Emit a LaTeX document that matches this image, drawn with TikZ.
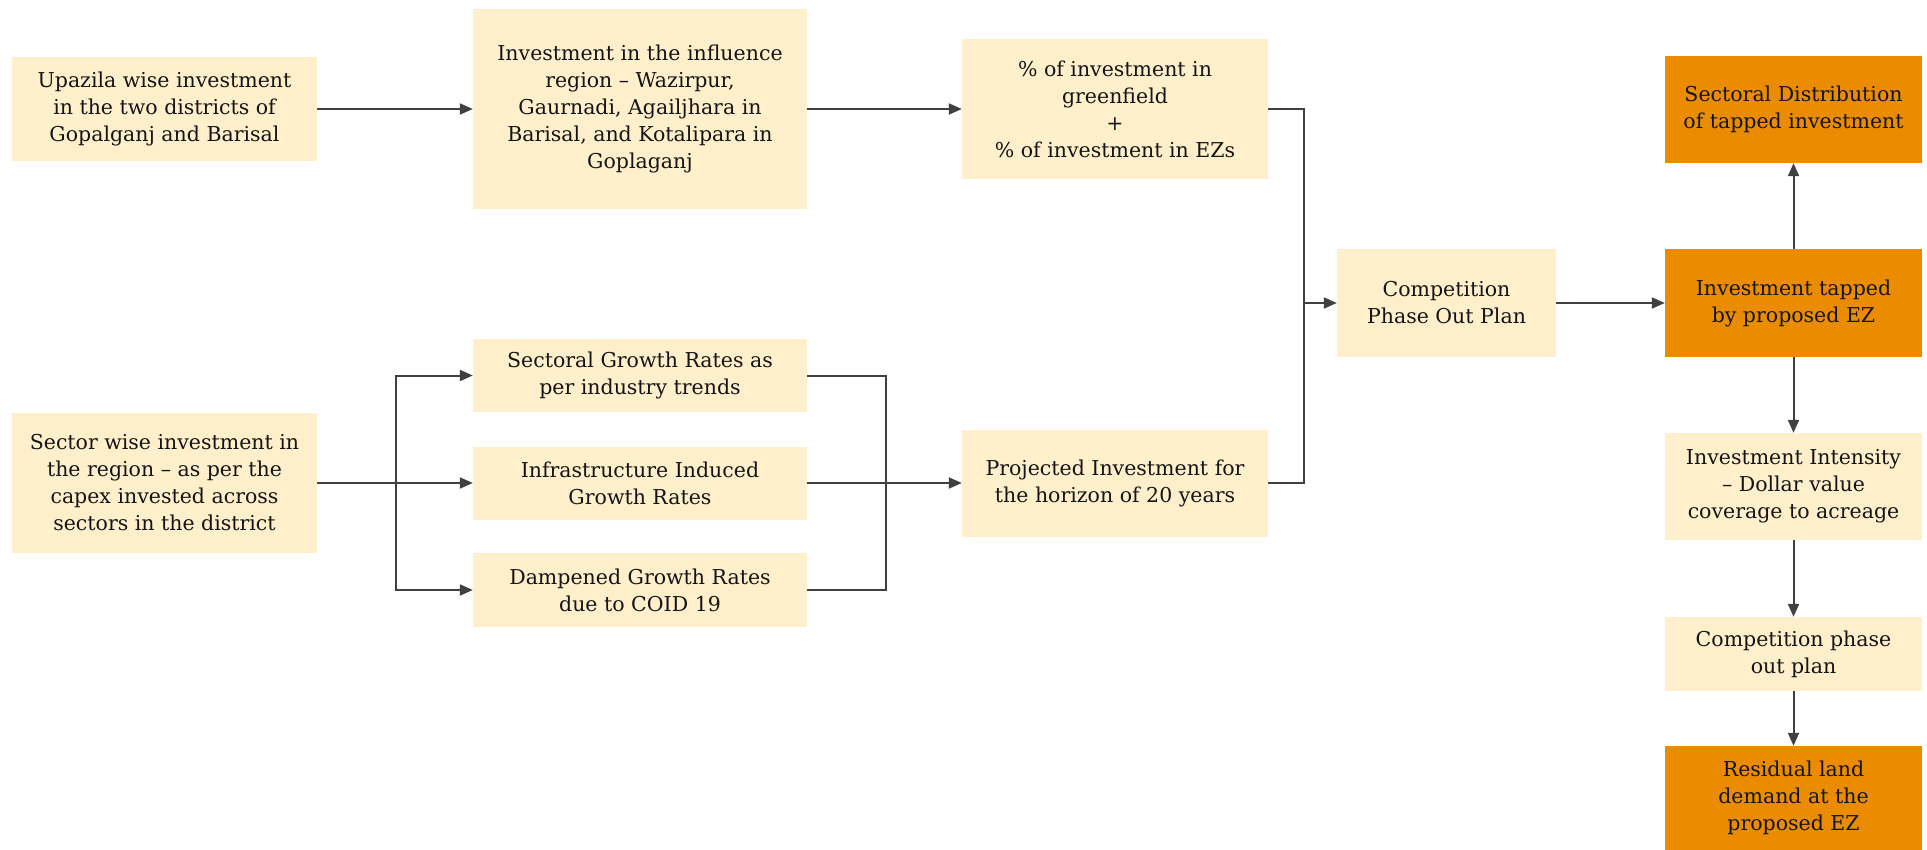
\documentclass[tikz,border=0pt]{standalone}
\usepackage{fontspec}
\setmainfont{DejaVu Serif}
\usetikzlibrary{arrows.meta}
\definecolor{cream}{HTML}{FFF0CB}
\definecolor{pwcorange}{HTML}{EB8C00}
\definecolor{wire}{HTML}{404040}
\definecolor{ink}{HTML}{141414}
\begin{document}
\begin{tikzpicture}[x=1pt,y=-1pt,
  box/.style={fill=cream, draw=none, align=center, inner sep=0pt, text=ink,
    font=\fontsize{20.5}{27}\selectfont},
  hotbox/.style={box, fill=pwcorange},
  wireline/.style={draw=wire, line width=2pt},
  flow/.style={wireline, -{Triangle[length=13pt,width=11pt]}}
]
\useasboundingbox (0,0) rectangle (1927,850);

% left column
\node[box, minimum width=305pt, minimum height=104pt] (up) at (164.5,109)
  {Upazila wise investment\\in the two districts of\\Gopalganj and Barisal};
\node[box, minimum width=305pt, minimum height=140pt] (sw) at (164.5,483)
  {Sector wise investment in\\the region -- as per the\\capex invested across\\sectors in the district};

% second column
\node[box, minimum width=334pt, minimum height=200pt] (inf) at (640,109)
  {Investment in the influence\\region -- Wazirpur,\\Gaurnadi, Agailjhara in\\Barisal, and Kotalipara in\\Goplaganj};
\node[box, minimum width=334pt, minimum height=73pt] (sgr) at (640,375.5)
  {Sectoral Growth Rates as\\per industry trends};
\node[box, minimum width=334pt, minimum height=73pt] (infra) at (640,483)
  {Infrastructure Induced\\Growth Rates};
\node[box, minimum width=334pt, minimum height=74pt] (damp) at (640,590)
  {Dampened Growth Rates\\due to COID 19};

% third column
\node[box, minimum width=306pt, minimum height=140pt] (pct) at (1115,109)
  {\% of investment in\\greenfield\\+\\\% of investment in EZs};
\node[box, minimum width=306pt, minimum height=107pt] (proj) at (1115,483)
  {Projected Investment for\\the horizon of 20 years};

% fourth column
\node[box, minimum width=219pt, minimum height=107pt] (cpop) at (1446.5,303)
  {Competition\\Phase Out Plan};

% right column
\node[hotbox, minimum width=257pt, minimum height=107pt] (sd) at (1793.5,109.5)
  {Sectoral Distribution\\of tapped investment};
\node[hotbox, minimum width=257pt, minimum height=108pt] (tap) at (1793.5,303)
  {Investment tapped\\by proposed EZ};
\node[box, minimum width=257pt, minimum height=107pt] (ii) at (1793.5,486.5)
  {Investment Intensity\\-- Dollar value\\coverage to acreage};
\node[box, minimum width=257pt, minimum height=74pt] (cpp) at (1793.5,654)
  {Competition phase\\out plan};
\node[hotbox, minimum width=257pt, minimum height=104pt] (res) at (1793.5,798)
  {Residual land\\demand at the\\proposed EZ};

% junction points
\coordinate (split) at (396,483);
\coordinate (merge) at (886,483);
\coordinate (trunk) at (1304,303);

% connectors
\draw[flow] (up) -- (inf);
\draw[flow] (inf) -- (pct);

\draw[wireline] (sw.east) -- (split);
\draw[flow] (split) |- (sgr.west);
\draw[flow] (split) -- (infra.west);
\draw[flow] (split) |- (damp.west);

\draw[wireline] (sgr.east) -| (merge);
\draw[wireline] (damp.east) -| (merge);
\draw[wireline] (infra.east) -- (merge);
\draw[flow] (merge) -- (proj.west);

\draw[wireline] (pct.east) -| (trunk);
\draw[wireline] (proj.east) -| (trunk);
\draw[flow] (trunk) -- (cpop.west);

\draw[flow] (cpop) -- (tap);
\draw[flow] (tap) -- (sd);
\draw[flow] (tap) -- (ii);
\draw[flow] (ii) -- (cpp);
\draw[flow] (cpp) -- (res);
\end{tikzpicture}
\end{document}
